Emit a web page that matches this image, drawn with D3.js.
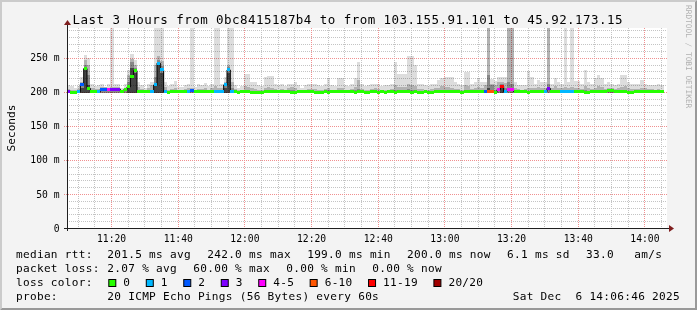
<!DOCTYPE html>
<html><head><meta charset="utf-8">
<script src="https://cdn.jsdelivr.net/npm/d3@7/dist/d3.min.js"></script>
<style>
html,body{margin:0;padding:0;background:#f3f3f3;}
svg{display:block;}
text{font-family:"DejaVu Sans Mono",monospace;fill:#000;}
</style></head><body>
<svg id="c" width="697" height="310"></svg>
<script>
// ---------- data ----------
const titleText = "Last 3 Hours from 0bc8415187b4 to from 103.155.91.101 to 45.92.173.15";
const yAxisLabel = "Seconds";
const watermarkText = "RRDTOOL / TOBI OETIKER";
const startTime = new Date(2025, 11, 6, 11, 6, 46);
const endTime = new Date(2025, 11, 6, 14, 6, 46);
const stepSeconds = 60;
const yMax = 293.6;
const yTickValues = [0, 50, 100, 150, 200, 250];
const yTickLabels = ["0", "50 m", "100 m", "150 m", "200 m", "250 m"];
const xTickLabels = ["11:20", "11:40", "12:00", "12:20", "12:40", "13:00", "13:20", "13:40", "14:00"];

// median rtt (ms) per minute
const median = [
201,199,199,200,211,234,205,200,200,200,
204,204,203,204,204,204,200,203,207,223,
231,200,200,200,200,200,210,242,232,200,
199,200,200,200,200,200,201,202,200,200,
200,200,200,200,201,200,201,210,232,200,
200,199,200,200,200,199,199,199,199,200,
200,200,200,200,200,200,200,199,199,200,
200,200,200,200,199,199,199,200,199,200,
200,200,200,200,200,200,199,200,200,199,
199,200,200,199,200,199,200,200,199,200,
200,200,200,199,200,199,199,200,199,199,
200,200,200,200,200,200,200,200,199,200,
200,200,200,200,200,201,201,201,199,203,
208,200,203,203,200,200,200,200,199,200,
200,200,200,200,205,200,200,200,201,201,
201,201,200,200,200,199,199,200,200,200,
200,200,202,202,200,200,200,200,199,199,
200,200,200,200,200,200,200,200,200];
// lost pings (of 20) per minute
const lossCount = [
3,0,0,1,2,0,0,0,0,1,
2,2,4,3,3,3,0,0,0,0,
0,0,0,0,0,1,1,1,1,1,
0,0,0,0,0,0,1,2,0,0,
0,0,0,0,1,1,1,1,1,1,
0,0,0,0,0,0,0,0,0,0,
0,0,0,0,0,0,0,0,0,0,
0,0,0,0,0,0,0,0,0,0,
0,0,0,0,0,0,0,0,0,0,
0,0,0,0,0,0,0,0,0,0,
0,0,0,0,0,0,0,0,0,0,
0,0,0,0,0,0,0,0,0,0,
0,0,0,0,0,2,7,7,0,4,
12,1,4,4,0,0,0,0,0,0,
0,0,0,1,3,0,0,0,1,1,
1,1,0,0,0,0,0,0,0,0,
0,0,0,0,0,0,0,0,0,0,
0,0,0,0,0,0,0,0,0];
// smoke: outer band top (ms)
const smokeMax = [
210,208,206,208,222,254,250,212,208,210,
212,207,212,300,212,212,206,212,232,256,
246,215,210,206,212,215,300,300,300,215,
208,212,216,207,207,210,212,300,207,212,
210,213,208,212,300,300,212,222,300,300,
210,206,208,226,226,215,215,210,208,222,
223,223,212,210,212,208,212,212,215,210,
206,210,212,212,212,210,208,212,220,210,
208,220,220,210,208,212,220,243,212,208,
210,212,212,212,208,210,210,212,243,226,
226,226,252,252,240,212,212,210,208,212,
212,217,220,222,222,222,215,212,210,229,
229,212,215,220,214,215,300,218,216,222,
222,222,300,300,215,210,210,210,230,222,
212,217,214,215,300,212,220,215,212,300,
215,300,216,216,212,232,215,212,220,225,
220,212,215,212,210,212,225,225,214,212,
212,212,217,212,210,210,210,212,210];
// smoke: second band top (ms)
const smokeHigh = [
204,203,202,204,215,246,240,206,204,204,
207,207,206,207,207,207,203,206,225,248,
240,207,204,203,205,210,240,252,245,207,
203,204,205,203,203,204,205,206,203,204,
204,205,203,205,208,206,205,215,240,215,
204,202,203,208,207,205,204,203,203,206,
207,206,204,203,204,203,205,207,205,203,
202,203,204,204,204,203,203,204,206,203,
203,205,205,203,203,204,207,217,204,203,
203,204,205,204,203,203,203,204,210,207,
207,207,212,210,208,204,204,203,203,204,
205,206,208,207,207,206,204,204,203,210,
208,204,205,207,206,210,300,212,210,215,
215,213,300,300,206,204,203,204,205,205,
205,207,205,206,300,206,208,206,205,207,
206,207,205,205,204,208,205,204,206,208,
207,204,206,205,204,205,207,208,205,204,
204,204,206,205,204,204,203,204,203];
// smoke: third band top (ms)
const smokeMid = [
201,201,201,201,212,240,225,202,201,201,
203,203,202,202,202,202,201,203,215,243,
235,202,201,201,201,203,222,247,238,202,
201,201,201,201,201,201,202,202,201,201,
201,201,201,201,202,202,202,212,236,205,
201,201,201,202,202,201,201,201,201,201,
202,201,201,201,201,201,201,202,201,201,
201,201,201,201,201,201,201,201,202,201,
201,201,201,201,201,201,202,204,201,201,
201,201,201,201,201,201,201,201,203,202,
202,202,204,203,202,201,201,201,201,201,
201,202,202,202,202,201,201,201,201,202,
202,201,201,202,202,203,225,210,202,205,
212,205,215,212,202,201,201,201,201,201,
201,202,201,202,212,202,202,201,202,202,
202,202,201,201,201,202,201,201,201,202,
202,201,202,202,201,201,202,202,201,201,
201,201,201,201,201,201,201,201,201];
// smoke: core band top (ms)
const smokeCore = [
198,198,198,198,205,232,210,198,198,198,
198,198,198,198,198,198,198,198,208,235,
228,198,198,198,198,198,212,240,228,198,
198,198,198,198,198,198,198,198,198,198,
198,198,198,198,198,198,198,206,228,198,
198,198,198,198,198,198,198,198,198,198,
198,198,198,198,198,198,198,198,198,198,
198,198,198,198,198,198,198,198,198,198,
198,198,198,198,198,198,198,198,198,198,
198,198,198,198,198,198,198,198,198,198,
198,198,198,198,198,198,198,198,198,198,
198,198,198,198,198,198,198,198,198,198,
198,198,198,198,198,198,205,198,198,198,
206,198,198,198,198,198,198,198,198,198,
198,198,198,198,198,198,198,198,198,198,
198,198,198,198,198,198,198,198,198,198,
198,198,198,198,198,198,198,198,198,198,
198,198,198,198,198,198,198,198,198];
const smokeFloor = 198;

const lossLabels = ["0", "1", "2", "3", "4-5", "6-10", "11-19", "20/20"];
const lossUpper = [0, 1, 2, 3, 5, 10, 19, 20];
const lossColors = ["#26ff00", "#00b8ff", "#0059ff", "#7e00ff", "#ff00ff", "#ff5500", "#ff0000", "#a00000"];

const rttStats = ["201.5 ms avg", "242.0 ms max", "199.0 ms min", "200.0 ms now", "6.1 ms sd", "33.0", "am/s"];
const lossStats = ["2.07 % avg", "60.00 % max", "0.00 % min", "0.00 % now"];
const probeText = "20 ICMP Echo Pings (56 Bytes) every 60s";
const dateText = "Sat Dec  6 14:06:46 2025";

// ---------- drawing ----------
const W = 697, H = 310;
const P = {left: 67, right: 667, top: 28, bottom: 228};
const svg = d3.select("#c");

const times = median.map((_, i) => new Date(startTime.getTime() + i * stepSeconds * 1000));
const tEnd = i => new Date(times[i].getTime() + stepSeconds * 1000);
const x = d3.scaleTime().domain([startTime, endTime]).range([P.left, P.right]);
const y = d3.scaleLinear().domain([0, yMax]).range([P.bottom, P.top]);
const lossColor = n => lossColors[lossUpper.findIndex(u => n <= u)];

// background + frame
svg.append("rect").attr("width", W).attr("height", H).attr("fill", "#f3f3f3");
svg.append("path").attr("fill", "#cbcbcb")
  .attr("d", `M0,0H${W}L${W-2},2H2V${H-2}L0,${H}Z`);
svg.append("path").attr("fill", "#999999")
  .attr("d", `M0,${H}H${W}V0L${W-2},2V${H-2}H2Z`);

svg.append("rect").attr("x", P.left).attr("y", P.top)
  .attr("width", P.right - P.left).attr("height", P.bottom - P.top).attr("fill", "#fff");

svg.append("clipPath").attr("id", "pc").append("rect")
  .attr("x", P.left).attr("y", P.top).attr("width", P.right - P.left).attr("height", P.bottom - P.top);

const g = svg.append("g").attr("clip-path", "url(#pc)");

// smoke bands
const idx = d3.range(median.length);
const bands = [
  {vals: smokeMax, color: "#dddddd"},
  {vals: smokeHigh, color: "#b2b2b2"},
  {vals: smokeMid, color: "#888888"},
  {vals: smokeCore, color: "#444444"}
];
bands.forEach(b => {
  g.append("g").attr("shape-rendering", "crispEdges").selectAll("rect")
    .data(idx.filter(i => b.vals[i] > smokeFloor)).join("rect")
    .attr("x", i => x(times[i]))
    .attr("width", i => x(tEnd(i)) - x(times[i]))
    .attr("y", i => y(b.vals[i]))
    .attr("height", i => y(smokeFloor) - y(b.vals[i]))
    .attr("fill", b.color);
});

// grid (multiplied over the smoke)
const grid = svg.append("g").attr("shape-rendering", "crispEdges").style("mix-blend-mode", "multiply");
const minorT = d3.timeMinute.every(5).range(startTime, endTime).filter(t => t.getMinutes() % 20 !== 0);
const majorT = d3.timeMinute.every(20).range(startTime, endTime);
const minorY = d3.range(10, yMax, 10).filter(v => v % 50 !== 0);
const majorY = yTickValues.filter(v => v > 0);
grid.selectAll(".vmin").data(minorT).join("line")
  .attr("x1", d => Math.round(x(d)) + 0.5).attr("x2", d => Math.round(x(d)) + 0.5)
  .attr("y1", P.top).attr("y2", P.bottom)
  .attr("stroke", "#c4c4c4").attr("stroke-dasharray", "1,1");
grid.selectAll(".hmin").data(minorY).join("line")
  .attr("x1", P.left).attr("x2", P.right)
  .attr("y1", d => Math.round(y(d)) + 0.5).attr("y2", d => Math.round(y(d)) + 0.5)
  .attr("stroke", "#c4c4c4").attr("stroke-dasharray", "1,1");
grid.selectAll(".vmaj").data(majorT).join("line")
  .attr("x1", d => Math.round(x(d)) + 0.5).attr("x2", d => Math.round(x(d)) + 0.5)
  .attr("y1", P.top).attr("y2", P.bottom)
  .attr("stroke", "#f09090").attr("stroke-dasharray", "1,1");
grid.selectAll(".hmaj").data(majorY).join("line")
  .attr("x1", P.left - 3).attr("x2", P.right)
  .attr("y1", d => Math.round(y(d)) + 0.5).attr("y2", d => Math.round(y(d)) + 0.5)
  .attr("stroke", "#f09090").attr("stroke-dasharray", "1,1");

// median line (dark) and loss-coloured bands
const g2 = svg.append("g").attr("clip-path", "url(#pc)");
const medPts = idx.map(i => [times[i], median[i]]);
medPts.push([tEnd(median.length - 1), median[median.length - 1]]);
g2.append("path").datum(medPts)
  .attr("d", d3.line().x(d => x(d[0])).y(d => y(d[1])).curve(d3.curveStepAfter))
  .attr("fill", "none").attr("stroke", "#000").attr("stroke-width", 1);
g2.append("g").attr("shape-rendering", "crispEdges").selectAll("rect")
  .data(idx).join("rect")
  .attr("x", i => x(times[i]))
  .attr("width", i => x(tEnd(i)) - x(times[i]))
  .attr("y", i => y(median[i]) - 1.5)
  .attr("height", 3)
  .attr("fill", i => lossColor(lossCount[i]));

// axes lines + arrows
const ax = svg.append("g");
ax.append("line").attr("x1", P.left - 3).attr("x2", P.right + 5)
  .attr("y1", P.bottom + 0.5).attr("y2", P.bottom + 0.5).attr("stroke", "#1f1f1f").attr("shape-rendering", "crispEdges");
ax.append("line").attr("x1", P.left + 0.5).attr("x2", P.left + 0.5)
  .attr("y1", P.bottom + 3).attr("y2", P.top - 5).attr("stroke", "#1f1f1f").attr("shape-rendering", "crispEdges");
ax.append("path").attr("fill", "#7f1f1f")
  .attr("d", `M${P.left + 0.5 - 3.5},${P.top - 3}L${P.left + 0.5 + 3.5},${P.top - 3}L${P.left + 0.5},${P.top - 8}Z`);
ax.append("path").attr("fill", "#7f1f1f")
  .attr("d", `M${P.right + 2},${P.bottom + 0.5 - 3.5}L${P.right + 2},${P.bottom + 0.5 + 3.5}L${P.right + 7},${P.bottom + 0.5}Z`);

// tick labels
const yAxis = d3.axisLeft(y).tickValues(yTickValues)
  .tickFormat((d, i) => yTickLabels[i]).tickSize(0).tickPadding(7.5);
const yg = svg.append("g").attr("transform", `translate(${P.left},0)`).call(yAxis);
yg.select(".domain").remove();
yg.selectAll("text").attr("font-family", "DejaVu Sans Mono").attr("font-size", "9.7px").attr("fill", "#000");

const xTickTimes = majorT.filter(t => !(t.getHours() === 11 && t.getMinutes() === 0));
const xAxis = d3.axisBottom(x).tickValues(xTickTimes)
  .tickFormat((d, i) => xTickLabels[i]).tickSize(0).tickPadding(7);
const xg = svg.append("g").attr("transform", `translate(0,${P.bottom})`).call(xAxis);
xg.select(".domain").remove();
xg.selectAll("text").attr("font-family", "DejaVu Sans Mono").attr("font-size", "9.7px").attr("fill", "#000");

// title
svg.append("text").attr("x", 72.5).attr("y", 24).attr("text-anchor", "start")
  .attr("font-size", "12.5px").attr("textLength", 550).attr("lengthAdjust", "spacing").text(titleText);

// y label
svg.append("text").attr("transform", `translate(15,128) rotate(-90)`).attr("text-anchor", "middle")
  .attr("font-size", "11.1px").text(yAxisLabel);

// watermark
svg.append("text").attr("transform", `translate(685.5,5) rotate(90)`).attr("text-anchor", "start")
  .attr("font-size", "7.8px").style("fill", "#b0b0b0").text(watermarkText);

// legend
const legendText = (tx, ty, s, anchor) => {
  const t = svg.append("text").attr("x", tx).attr("y", ty).attr("xml:space", "preserve")
    .style("white-space", "pre").attr("font-size", "11.1px").attr("letter-spacing", "0.29px").text(s);
  if (anchor) t.attr("text-anchor", anchor);
  return t;
};
const baseY = [258, 272.2, 286.3, 300.2];
const colX = 107.3, gap = 16.3;
legendText(16, baseY[0], "median rtt:");
let cx = colX;
rttStats.forEach((s, k) => {
  const t = legendText(cx, baseY[0], s);
  cx += t.node().getComputedTextLength() + gap + (k === 5 ? 4 : 0);
});
legendText(16, baseY[1], "packet loss:");
cx = colX;
lossStats.forEach(s => {
  const t = legendText(cx, baseY[1], s);
  cx += t.node().getComputedTextLength() + gap;
});
legendText(16, baseY[2], "loss color:");
cx = colX + 1;
lossLabels.forEach((s, k) => {
  svg.append("rect").attr("x", cx + 0.5).attr("y", 279.5).attr("width", 7).attr("height", 7)
    .attr("fill", lossColors[k]).attr("stroke", "#000").attr("stroke-width", 1);
  const t = legendText(cx + 15, baseY[2], s);
  cx += 15 + t.node().getComputedTextLength() + 15.5;
});
legendText(16, baseY[3], "probe:");
legendText(colX, baseY[3], probeText);
legendText(680, baseY[3], dateText, "end");
</script>
</body></html>
